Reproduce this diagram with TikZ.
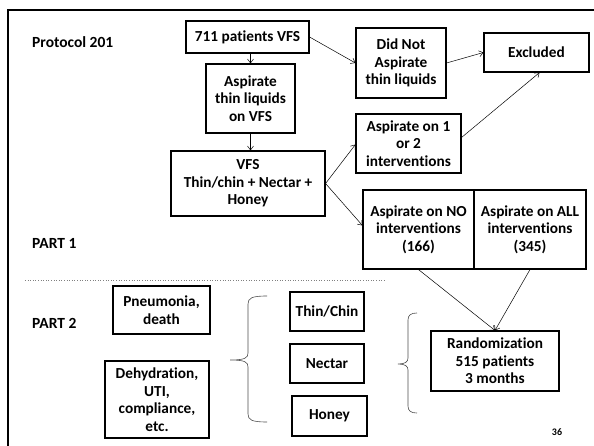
\documentclass[tikz,border=0pt]{standalone}
\usepackage{fontspec}
\setmainfont{Carlito}[Ligatures=NoCommon]
\usetikzlibrary{arrows.meta,calc}
\tikzset{
  box/.style={draw=black, line width=1.1pt, fill=white, align=center, inner sep=1pt,
    font=\fontsize{15.3}{17.5}\selectfont\bfseries},
  lbl/.style={anchor=west, inner sep=0pt, font=\fontsize{15.5}{17}\selectfont\bfseries},
  arr/.style={draw=black, line width=0.5pt, -{Straight Barb[length=4pt,width=6pt]}},
  brc/.style={draw=black!70, line width=0.6pt},
}
\begin{document}
\begin{tikzpicture}[x=1pt,y=-1pt]
\useasboundingbox (0,0) rectangle (594,446);
% frame
\draw[line width=2.6pt] (8,447) -- (8,10) -- (595,10);
% labels
\node[lbl] (prot) at (32,42) {Protocol 201};
\node[lbl] (part1) at (32,243) {PART 1};
\node[lbl] (part2) at (32,323) {PART 2};
% dotted separator
\coordinate (dl) at (25,280);
\coordinate (dr) at (385,280);
\draw[gray, dotted, line width=0.6pt] (dl) -- (dr);
% boxes
\node[box, minimum width=123pt, minimum height=32pt] (p711) at (247.5,37) {711 patients VFS};
\node[box, minimum width=89pt, minimum height=69pt] (asp) at (250.5,98.5) {Aspirate\\thin liquids\\on VFS};
\node[box, minimum width=154pt, minimum height=65pt] (vfs) at (248,183.5) {VFS\\Thin/chin + Nectar +\\Honey};
\node[box, minimum width=90pt, minimum height=70pt] (didnot) at (401,63) {Did Not\\Aspirate\\thin liquids};
\node[box, minimum width=105pt, minimum height=39pt] (excl) at (536.5,52.5) {Excluded};
\node[box, minimum width=105pt, minimum height=59pt] (one2) at (408.5,143.5) {Aspirate on 1\\or 2\\interventions};
\node[box, minimum width=111pt, minimum height=79pt] (no) at (418.5,229.5) {Aspirate on NO\\interventions\\(166)};
\node[box, minimum width=112pt, minimum height=79pt] (all) at (530,229.5) {Aspirate on ALL\\interventions\\(345)};
\node[box, minimum width=97pt, minimum height=48pt] (pneu) at (161.5,310) {Pneumonia,\\death};
\node[box, minimum width=104pt, minimum height=77pt] (dehy) at (157,399.5) {Dehydration,\\UTI,\\compliance,\\etc.};
\node[box, minimum width=74pt, minimum height=39pt] (thin) at (327,311.5) {Thin/Chin};
\node[box, minimum width=74pt, minimum height=39pt] (nectar) at (327,363.5) {Nectar};
\node[box, minimum width=75pt, minimum height=40pt] (honey) at (329.5,416) {Honey};
\node[box, minimum width=128pt, minimum height=60pt] (rand) at (495,361) {Randomization\\515 patients\\3 months};
\node[inner sep=0pt, font=\fontsize{10}{11}\selectfont\bfseries] (pg) at (557,432) {36};
% arrows
\draw[arr] (asp.north |- p711.south) -- (asp.north);
\draw[arr] (asp.south) -- (asp.south |- vfs.north);
\draw[arr] (p711.east) -- (didnot.west);
\draw[arr] (didnot.east) -- (excl.west);
\draw[arr] ([yshift=6pt]one2.east) -- ([xshift=3pt]excl.south);
\draw[arr] (vfs.east) -- ([yshift=-1pt]one2.west);
\draw[arr] (vfs.east) -- ([yshift=4pt]no.west);
\draw[arr] (no.south) -- (rand.north);
\draw[arr] (all.south) -- (rand.north);
% left brace
\draw[brc] (267,296) .. controls (252,296) and (248,298) .. (248,304) -- (248,353)
  .. controls (248,358) and (245,360) .. (230,360)
  .. controls (245,360) and (248,362) .. (248,367) -- (248,414)
  .. controls (248,420) and (252,422) .. (267,422);
% right brace
\draw[brc] (417,313) .. controls (411,313) and (408,315) .. (408,320) -- (408,358)
  .. controls (408,362) and (405,364) .. (398,364)
  .. controls (405,364) and (408,366) .. (408,370) -- (408,406)
  .. controls (408,411) and (411,413) .. (417,413);
\end{tikzpicture}
\end{document}
